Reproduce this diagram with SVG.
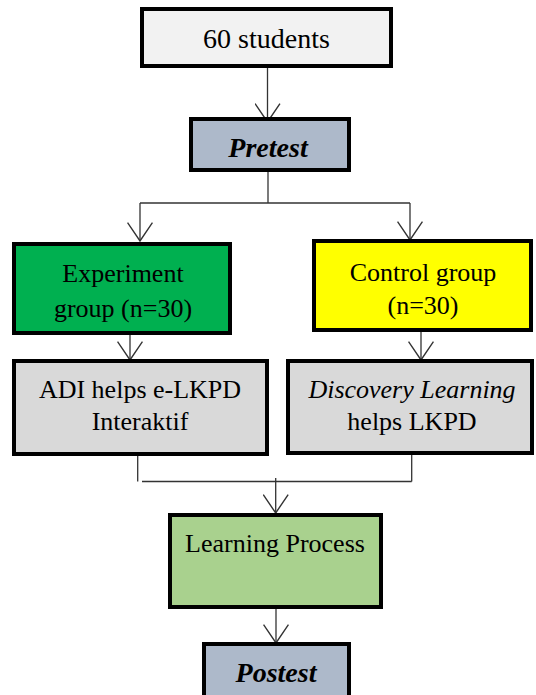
<svg xmlns="http://www.w3.org/2000/svg" width="536" height="695" viewBox="0 0 536 695">
  <defs>
    <style>
      .box { stroke: #000; stroke-width: 4; }
      .t { font-family: "Liberation Serif", "Times New Roman", serif; font-size: 26px; fill: #000; text-anchor: middle; }
      .bi { font-weight: bold; font-style: italic; font-size: 28px; }
      .it { font-style: italic; }
      .c { stroke: #333; stroke-width: 1.3; fill: none; }
    </style>
    <marker id="arr" markerUnits="userSpaceOnUse" markerWidth="20" markerHeight="26" viewBox="0 0 18 24" refX="17" refY="12" orient="auto">
      <path d="M0,0.5 L17,12 L0,23.5" fill="none" stroke="#333" stroke-width="1.3"/>
    </marker>
  </defs>
  <rect width="536" height="695" fill="#fff"/>

  <g id="connectors">
    <line class="c" x1="267.5" y1="68" x2="267.5" y2="122" marker-end="url(#arr)"/>
    <line class="c" x1="268" y1="172" x2="268" y2="203"/>
    <line class="c" x1="140" y1="203" x2="410" y2="203"/>
    <line class="c" x1="140" y1="203" x2="140" y2="241" marker-end="url(#arr)"/>
    <line class="c" x1="410" y1="203" x2="410" y2="240" marker-end="url(#arr)"/>
    <line class="c" x1="130" y1="335" x2="130" y2="360" marker-end="url(#arr)"/>
    <line class="c" x1="421" y1="332" x2="421" y2="360" marker-end="url(#arr)"/>
    <line class="c" x1="137.7" y1="456" x2="137.7" y2="481.5"/>
    <line class="c" x1="411.7" y1="455" x2="411.7" y2="481.5"/>
    <line class="c" x1="142" y1="481.5" x2="411.7" y2="481.5"/>
    <line class="c" x1="275.7" y1="478" x2="275.7" y2="513" marker-end="url(#arr)"/>
    <line class="c" x1="276" y1="592" x2="276" y2="643" marker-end="url(#arr)"/>
  </g>

  <g id="students">
    <rect class="box" x="142" y="9" width="249" height="57" fill="#f2f2f2"/>
    <text class="t" x="266.5" y="48" style="font-size:28px">60 students</text>
  </g>
  <g id="pretest">
    <rect class="box" x="191" y="119" width="158" height="51" fill="#adb9ca"/>
    <text class="t bi" x="268" y="157">Pretest</text>
  </g>
  <g id="experiment">
    <rect class="box" x="14" y="244" width="216" height="89" fill="#00b050"/>
    <text class="t" x="123" y="282">Experiment</text>
    <text class="t" x="123" y="317">group (n=30)</text>
  </g>
  <g id="control">
    <rect class="box" x="314" y="241" width="217" height="89" fill="#ffff00"/>
    <text class="t" x="423" y="281">Control group</text>
    <text class="t" x="423" y="314">(n=30)</text>
  </g>
  <g id="adi">
    <rect class="box" x="14" y="361" width="253" height="93" fill="#d9d9d9"/>
    <text class="t" x="140" y="398">ADI helps e-LKPD</text>
    <text class="t" x="140" y="430">Interaktif</text>
  </g>
  <g id="discovery">
    <rect class="box" x="288" y="361" width="244" height="92" fill="#d9d9d9"/>
    <text class="t it" x="412" y="398">Discovery Learning</text>
    <text class="t" x="412" y="430">helps LKPD</text>
  </g>
  <g id="learning">
    <rect class="box" x="170" y="515" width="211" height="92" fill="#a9d18e"/>
    <text class="t" x="275" y="552">Learning Process</text>
  </g>
  <g id="postest">
    <rect class="box" x="204" y="644" width="145" height="60" fill="#adb9ca"/>
    <text class="t bi" x="276" y="682">Postest</text>
  </g>
</svg>
